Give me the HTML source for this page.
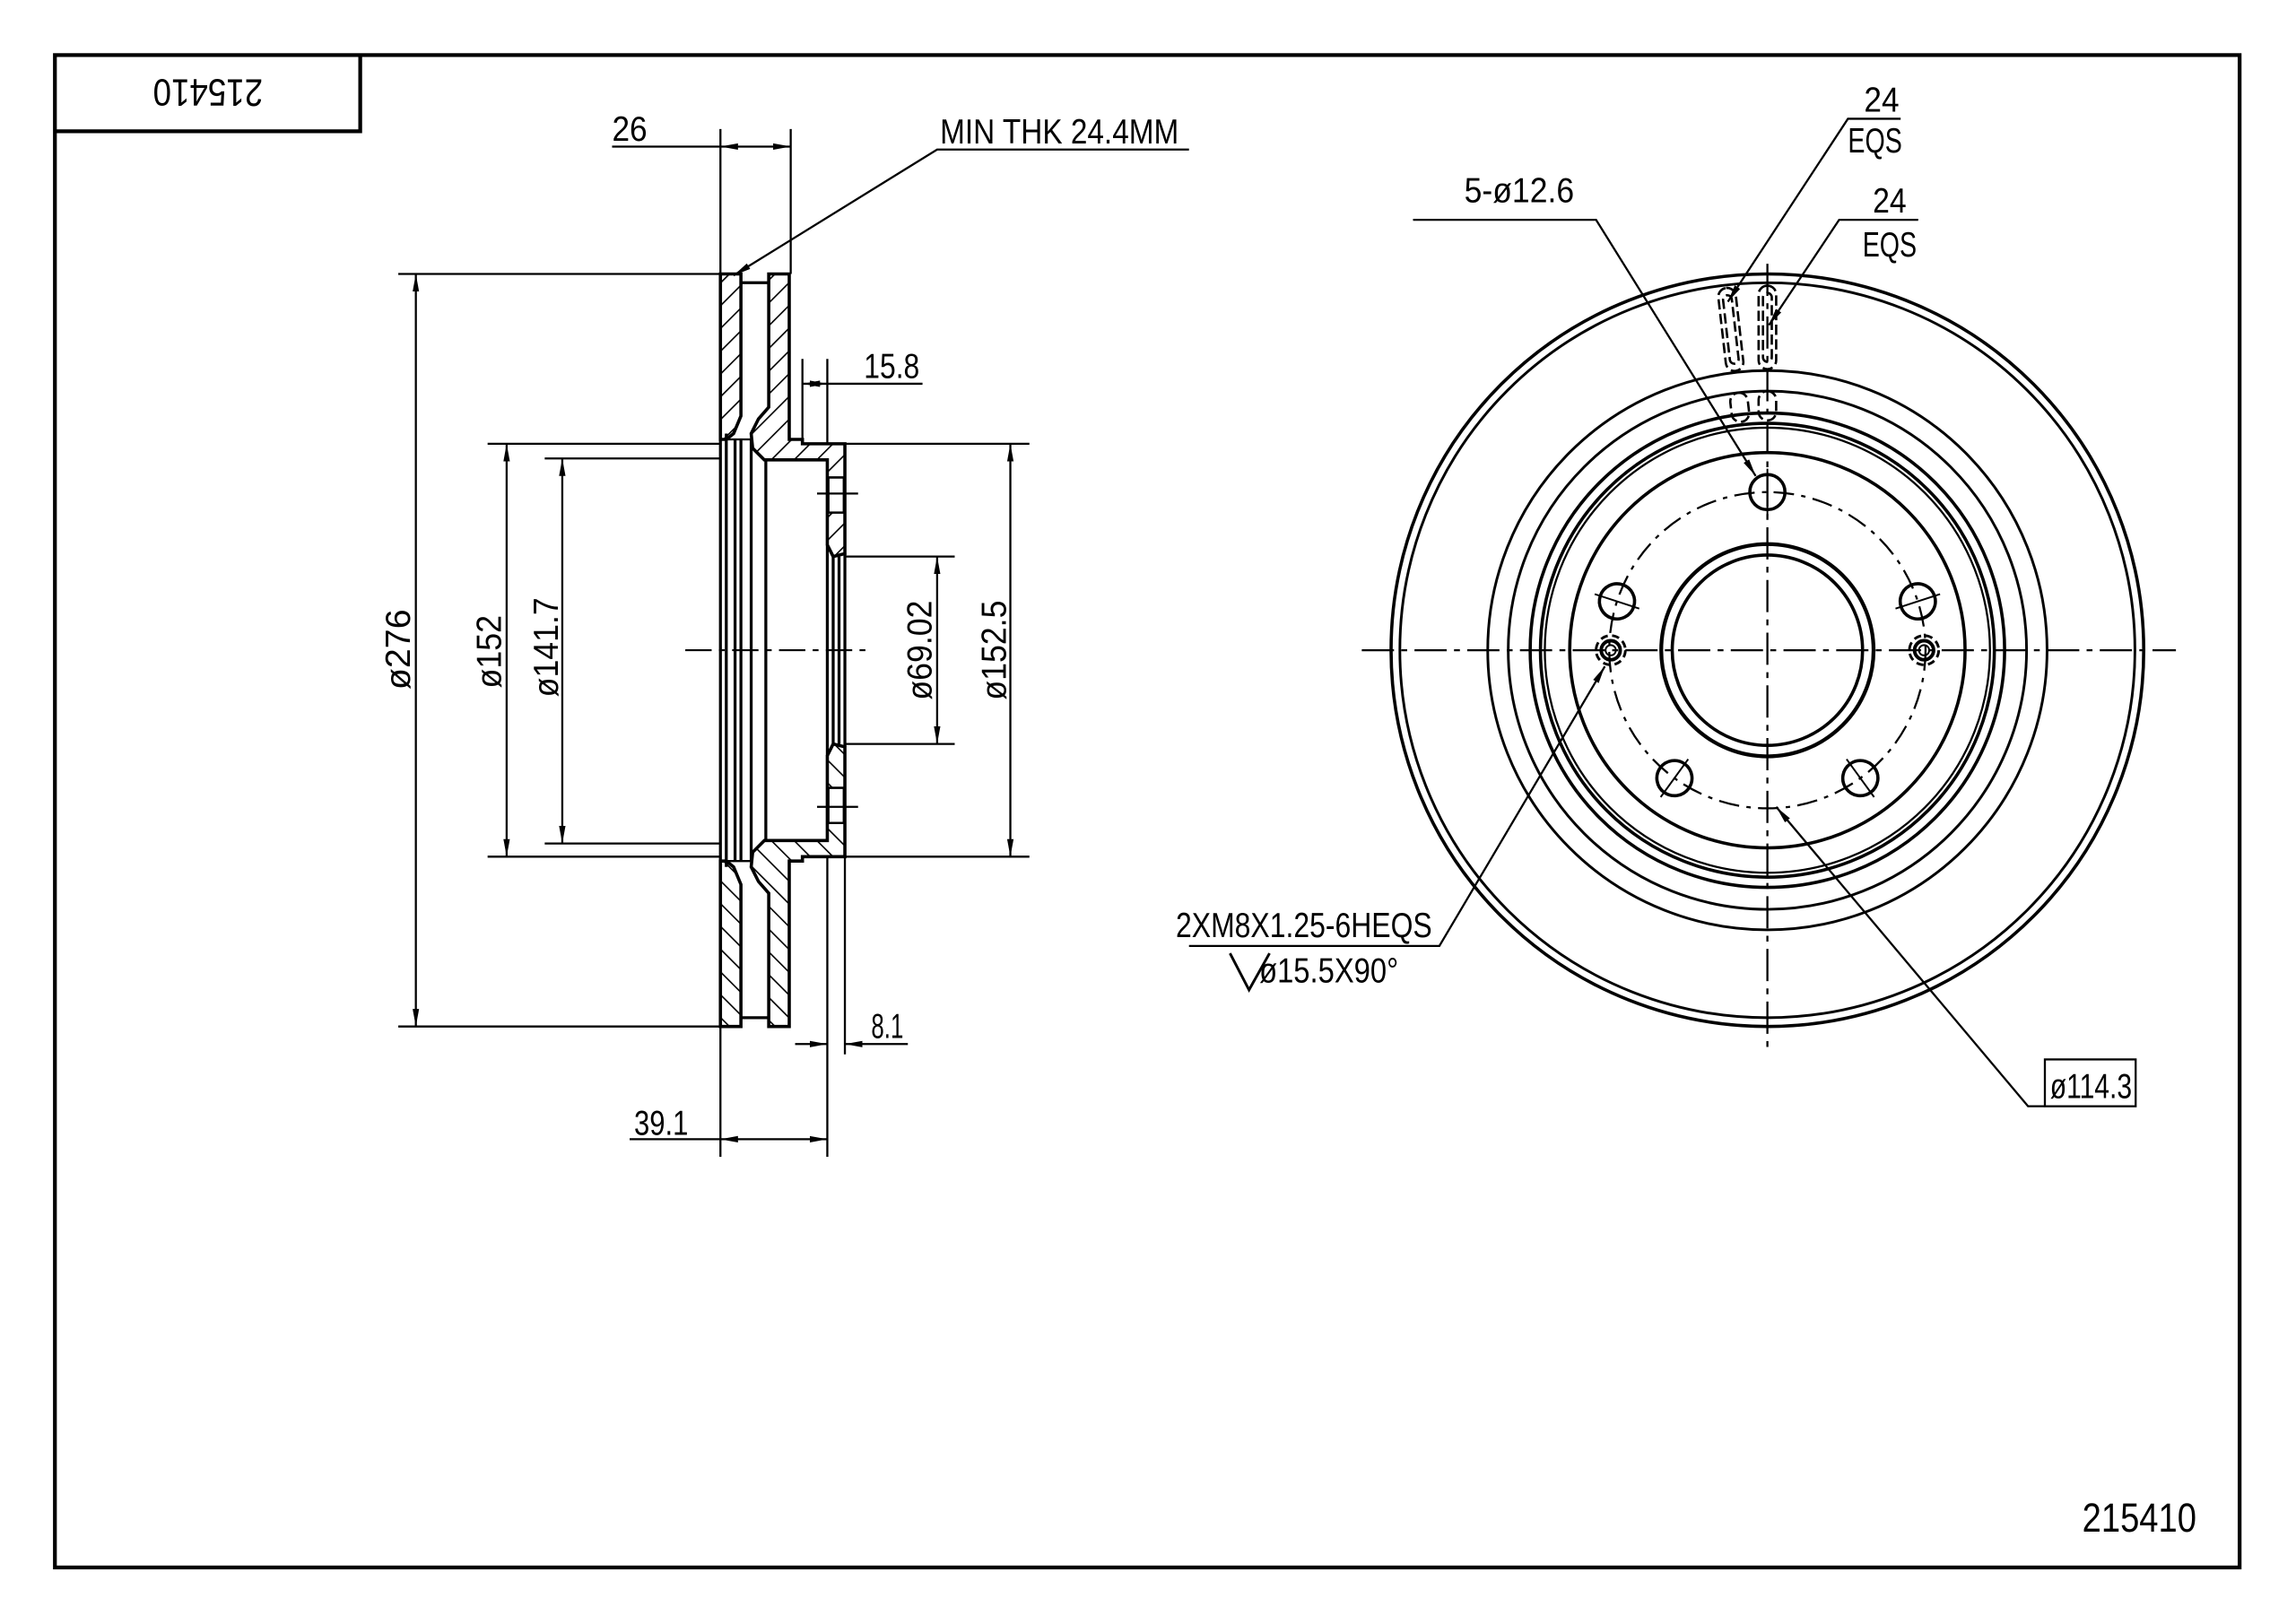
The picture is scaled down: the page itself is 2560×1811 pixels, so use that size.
<!DOCTYPE html>
<html><head><meta charset="utf-8"><style>
html,body{margin:0;padding:0;background:#fff;}
svg{display:block;}
text{font-family:"Liberation Sans",sans-serif;fill:#000;}
</style></head><body>
<svg width="2560" height="1811" viewBox="0 0 1568 1109" xmlns="http://www.w3.org/2000/svg">
<defs>
<pattern id="h" patternUnits="userSpaceOnUse" width="11" height="11" patternTransform="rotate(45)">
<line x1="0" y1="0" x2="0" y2="11" stroke="#000" stroke-width="2"/>
</pattern>
<marker id="a" markerWidth="12" markerHeight="6" refX="12" refY="3" orient="auto" markerUnits="userSpaceOnUse">
<path d="M0,0.8 L12,3 L0,5.2 Z" fill="#000"/>
</marker>
<marker id="b" markerWidth="12" markerHeight="6" refX="0" refY="3" orient="auto" markerUnits="userSpaceOnUse">
<path d="M12,0.8 L0,3 L12,5.2 Z" fill="#000"/>
</marker>
<g id="half">
<path d="M492,187 L506,187 L506,284 L501,296 L496,300 L492,300 Z" fill="url(#h)" stroke="#000" stroke-width="2.2"/>
<path d="M525,187 L539,187 L539,300 L548,300 L548,303 L577,303 L577,378 L569,380 L565,372 L565,314 L522,314 L514,306 L513,296 L518,286 L525,278 Z" fill="url(#h)" stroke="#000" stroke-width="2.2"/>
<rect x="566" y="326" width="10" height="24" fill="#fff"/>
<line x1="565" y1="326" x2="577" y2="326" stroke="#000" stroke-width="1.6"/>
<line x1="565" y1="350" x2="577" y2="350" stroke="#000" stroke-width="1.6"/>
<line x1="558" y1="337" x2="586" y2="337" stroke="#000" stroke-width="1.4"/>
<line x1="506" y1="193" x2="525" y2="193" stroke="#000" stroke-width="2"/>
<line x1="492" y1="300" x2="513" y2="300" stroke="#000" stroke-width="1.4"/>
</g>
</defs>
<rect x="0" y="0" width="1568" height="1109" fill="#fff"/>
<rect x="37.5" y="37.5" width="1492" height="1033" fill="none" stroke="#000" stroke-width="2.6"/>
<polyline points="37.5,89.5 246,89.5 246,37.5" fill="none" stroke="#000" stroke-width="2.6"/>
<text x="142" y="63" transform="rotate(180 142 63)" font-size="26" text-anchor="middle" dominant-baseline="central" textLength="75" lengthAdjust="spacingAndGlyphs">215410</text>
<text x="1422" y="1046" font-size="28" textLength="78" lengthAdjust="spacingAndGlyphs">215410</text>

<g stroke="#000" fill="none">
<use href="#half"/>
<use href="#half" transform="translate(0,888) scale(1,-1)"/>
<g stroke-width="2">
<line x1="492" y1="300" x2="492" y2="588"/>
<line x1="496" y1="296" x2="496" y2="592"/>
<line x1="502" y1="300" x2="502" y2="588"/>
<line x1="506" y1="300" x2="506" y2="588"/>
<line x1="513" y1="300" x2="513" y2="588"/>
<line x1="523" y1="314" x2="523" y2="574"/>
<line x1="565" y1="372" x2="565" y2="516"/>
<line x1="569" y1="380" x2="569" y2="508"/>
<line x1="573" y1="380" x2="573" y2="508"/>
<line x1="577" y1="378" x2="577" y2="510"/>
</g>
<line x1="468" y1="444" x2="592" y2="444" stroke-width="1.3" stroke-dasharray="18,5,4,5"/>
<g stroke-width="1.4">
<line x1="272" y1="187" x2="491" y2="187"/>
<line x1="272" y1="701" x2="491" y2="701"/>
<line x1="333" y1="303" x2="492" y2="303"/>
<line x1="333" y1="585" x2="492" y2="585"/>
<line x1="372" y1="313" x2="492" y2="313"/>
<line x1="372" y1="576" x2="492" y2="576"/>
<line x1="577" y1="380" x2="652" y2="380"/>
<line x1="577" y1="508" x2="652" y2="508"/>
<line x1="577" y1="303" x2="703" y2="303"/>
<line x1="577" y1="585" x2="703" y2="585"/>
<line x1="492" y1="88" x2="492" y2="187"/>
<line x1="540" y1="88" x2="540" y2="187"/>
<line x1="548" y1="245" x2="548" y2="300"/>
<line x1="565" y1="245" x2="565" y2="303"/>
<line x1="565" y1="585" x2="565" y2="790"/>
<line x1="577" y1="585" x2="577" y2="720"/>
<line x1="492" y1="701" x2="492" y2="790"/>
</g>
<g stroke-width="1.4">
<line x1="284" y1="187" x2="284" y2="701" marker-start="url(#b)" marker-end="url(#a)"/>
<line x1="346" y1="303" x2="346" y2="585" marker-start="url(#b)" marker-end="url(#a)"/>
<line x1="384" y1="313" x2="384" y2="576" marker-start="url(#b)" marker-end="url(#a)"/>
<line x1="640" y1="380" x2="640" y2="508" marker-start="url(#b)" marker-end="url(#a)"/>
<line x1="690" y1="303" x2="690" y2="585" marker-start="url(#b)" marker-end="url(#a)"/>
<line x1="418" y1="100" x2="492" y2="100"/>
<line x1="492" y1="100" x2="540" y2="100" marker-start="url(#b)" marker-end="url(#a)"/>
<line x1="548" y1="262" x2="565" y2="262" marker-start="url(#b)" marker-end="url(#a)"/>
<line x1="565" y1="262" x2="630" y2="262"/>
<line x1="543" y1="713" x2="565" y2="713" marker-end="url(#a)"/>
<line x1="620" y1="713" x2="577" y2="713" marker-end="url(#a)"/>
<line x1="430" y1="778" x2="492" y2="778"/>
<line x1="492" y1="778" x2="565" y2="778" marker-start="url(#b)" marker-end="url(#a)"/>
<polyline points="812,102 640,102 501,188" marker-end="url(#a)"/>
</g>
</g>
<g font-size="24">
<text x="418" y="96" textLength="24" lengthAdjust="spacingAndGlyphs">26</text>
<text x="642" y="98" textLength="163" lengthAdjust="spacingAndGlyphs">MIN THK 24.4MM</text>
<text x="590" y="258" textLength="38" lengthAdjust="spacingAndGlyphs">15.8</text>
<text x="595" y="709" textLength="22" lengthAdjust="spacingAndGlyphs">8.1</text>
<text x="433" y="775" textLength="37" lengthAdjust="spacingAndGlyphs">39.1</text>
<text transform="translate(280,471) rotate(-90)" textLength="55" lengthAdjust="spacingAndGlyphs">ø276</text>
<text transform="translate(342,470) rotate(-90)" textLength="50" lengthAdjust="spacingAndGlyphs">ø152</text>
<text transform="translate(381,476) rotate(-90)" textLength="68" lengthAdjust="spacingAndGlyphs">ø141.7</text>
<text transform="translate(636,478) rotate(-90)" textLength="68" lengthAdjust="spacingAndGlyphs">ø69.02</text>
<text transform="translate(687,478) rotate(-90)" textLength="68" lengthAdjust="spacingAndGlyphs">ø152.5</text>
</g>

<g stroke="#000" fill="none">
<g stroke-width="2.2">
<circle cx="1207" cy="444" r="257"/>
<circle cx="1207" cy="444" r="251" stroke-width="1.8"/>
<circle cx="1207" cy="444" r="191" stroke-width="1.8"/>
<circle cx="1207" cy="444" r="177" stroke-width="1.8"/>
<circle cx="1207" cy="444" r="162"/>
<circle cx="1207" cy="444" r="155"/>
<circle cx="1207" cy="444" r="152" stroke-width="1.4"/>
<circle cx="1207" cy="444" r="135"/>
<circle cx="1207" cy="444" r="72.5" stroke-width="2.6"/>
<circle cx="1207" cy="444" r="65"/>
</g>
<circle cx="1207" cy="444" r="108" stroke-width="1.4" stroke-dasharray="14,5,3,5"/>
<line x1="930" y1="444" x2="1486" y2="444" stroke-width="1.4" stroke-dasharray="22,5,4,5"/>
<line x1="1207" y1="180" x2="1207" y2="720" stroke-width="1.4" stroke-dasharray="22,5,4,5"/>
<g id="bh" stroke-width="2.2">
<circle cx="1207" cy="336" r="12"/>
<line x1="1207" y1="320" x2="1207" y2="352" stroke-width="1.2"/>
</g>
<use href="#bh" transform="rotate(72 1207 444)"/>
<use href="#bh" transform="rotate(144 1207 444)"/>
<use href="#bh" transform="rotate(216 1207 444)"/>
<use href="#bh" transform="rotate(288 1207 444)"/>
<g stroke-width="1.8">
<circle cx="1100" cy="444" r="10" stroke-dasharray="5,3"/>
<circle cx="1100" cy="444" r="6.5" stroke-width="2.4"/>
<circle cx="1100" cy="444" r="3.5" stroke-width="1.2"/>
<circle cx="1314" cy="444" r="10" stroke-dasharray="5,3"/>
<circle cx="1314" cy="444" r="6.5" stroke-width="2.4"/>
<circle cx="1314" cy="444" r="3.5" stroke-width="1.2"/>
</g>
<g id="sl" stroke-width="1.6" stroke-dasharray="7,3">
<rect x="1201" y="195" width="12" height="57" rx="6"/>
<rect x="1204" y="200" width="6" height="47" rx="3"/>
<rect x="1201" y="267" width="12" height="20" rx="6"/>
</g>
<use href="#sl" transform="rotate(-6.5 1207 444)"/>
<g stroke-width="1.4">
<polyline points="965,150 1090,150 1199,325" marker-end="url(#a)"/>
<polyline points="1298,81 1262,81 1180,206" marker-end="url(#a)"/>
<polyline points="1310,150 1256,150 1208,222" marker-end="url(#a)"/>
<polyline points="812,646 983,646 1096,455" marker-end="url(#a)"/>
<polyline points="1396,755.5 1385,755.5 1213,551" marker-end="url(#a)"/>
<rect x="1396.5" y="723.5" width="62" height="32"/>
<polyline points="840,651 853,676 867,651" stroke-width="1.8"/>
</g>
</g>
<g font-size="24">
<text x="1000" y="138" textLength="75" lengthAdjust="spacingAndGlyphs">5-ø12.6</text>
<text x="1273" y="76" textLength="24" lengthAdjust="spacingAndGlyphs">24</text>
<text x="1262" y="104" textLength="37" lengthAdjust="spacingAndGlyphs">EQS</text>
<text x="1279" y="145" textLength="23" lengthAdjust="spacingAndGlyphs">24</text>
<text x="1272" y="175" textLength="37" lengthAdjust="spacingAndGlyphs">EQS</text>
<text x="803" y="640" textLength="175" lengthAdjust="spacingAndGlyphs">2XM8X1.25-6HEQS</text>
<text x="860" y="671" textLength="95" lengthAdjust="spacingAndGlyphs">ø15.5X90°</text>
<text x="1400" y="750" textLength="56" lengthAdjust="spacingAndGlyphs">ø114.3</text>
</g>
</svg>
</body></html>
